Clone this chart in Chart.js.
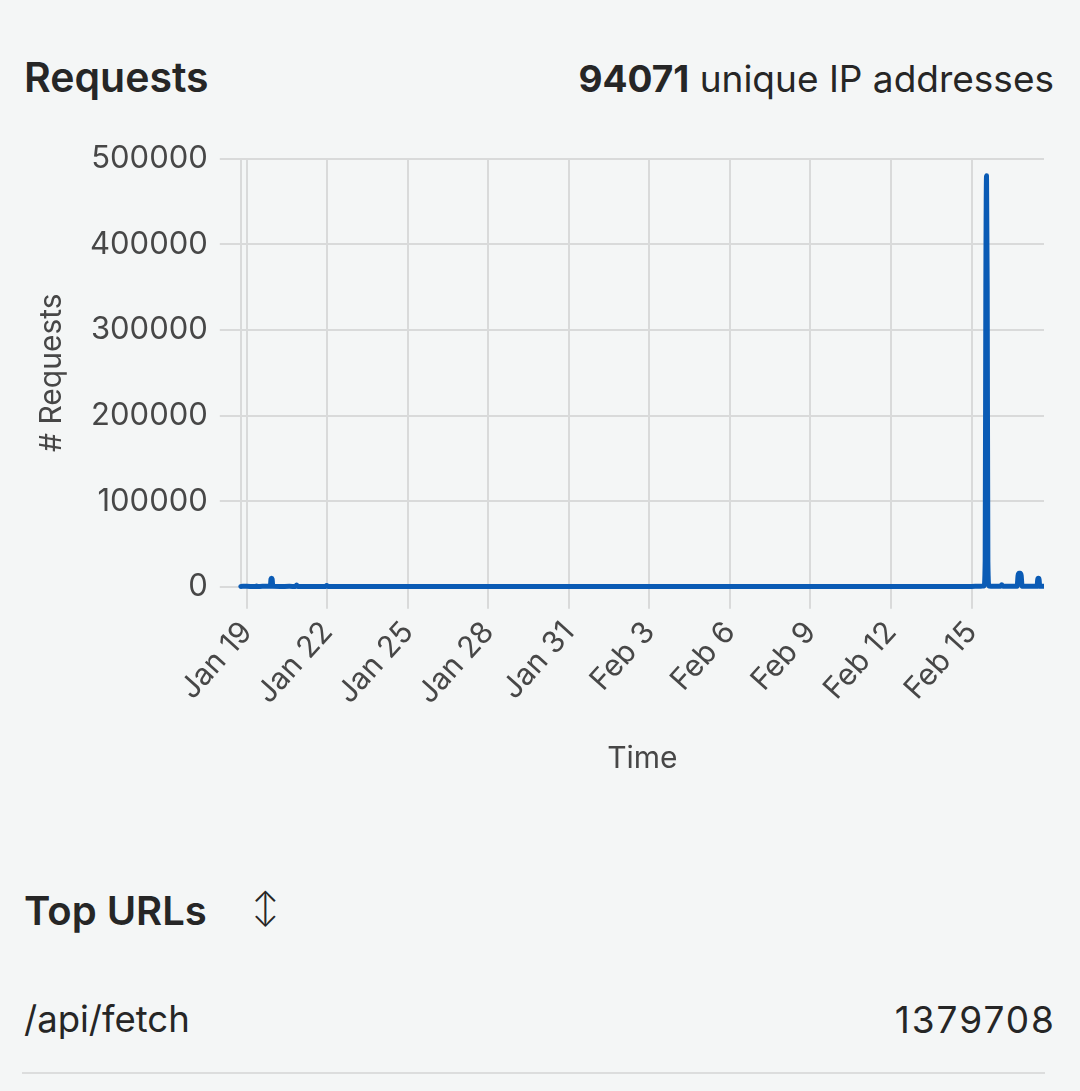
<!DOCTYPE html>
<html>
<head>
<meta charset="utf-8">
<script src="https://cdn.jsdelivr.net/npm/chart.js@4.4.1/dist/chart.umd.min.js"></script>
<style>
  html, body { margin: 0; padding: 0; background: #f4f6f6; }
  body { width: 1080px; height: 1091px; position: relative; overflow: hidden; font-family: Inter, "Noto Sans", sans-serif; color: #262626; }
  .abs { position: absolute; white-space: nowrap; line-height: 1; }
  #title { left: 24px; top: 57px; font-size: 41px; font-weight: 600; }
  #unique { right: 26px; top: 60px; font-size: 37px; font-weight: 400; }
  #unique b { font-weight: 700; }
  #wrap { position: absolute; left: 0; top: 128px; width: 1044px; height: 649px; }
  #top { left: 24px; top: 891px; font-size: 40px; font-weight: 600; }
  #arrow { left: 252px; top: 892px; font-size: 32px; font-weight: 300; }
  #url { left: 24px; top: 1001px; font-size: 36.5px; }
  #count { right: 24px; top: 1001px; font-size: 37px; letter-spacing: 2px; }
  #rule { position: absolute; left: 22px; width: 1023px; top: 1072px; height: 2px; background: #dcdddd; }
</style>
</head>
<body>
<div class="abs" id="title">Requests</div>
<div class="abs" id="unique"><b>94071</b> unique IP addresses</div>
<div id="wrap"><canvas id="c"></canvas></div>
<div class="abs" id="top">Top URLs</div>
<div class="abs" id="arrow">↕</div>
<div class="abs" id="url">/api/fetch</div>
<div class="abs" id="count">1379708</div>
<div id="rule"></div>
<script>
// Hours since Jan 19 00:00
const hours = [-5.4, 0, 6, 7.9, 8.7, 9.5, 14, 21.0, 21.6, 22.1, 22.6, 23.2, 30, 38, 43.5, 44.5, 45.5, 56, 70.4, 71.4, 72.4, 96, 120, 144, 168, 192, 216, 240, 264, 288, 312, 336, 360, 384, 408, 432, 456, 480, 504, 528, 552, 576, 600, 624, 648, 655, 659.2, 660.2, 660.8, 661.4, 662.0, 662.6, 663.6, 668, 674, 675, 676, 683, 688.8, 689.6, 690.5, 691.5, 692.4, 693.2, 700, 706.6, 707.2, 707.8, 708.4, 709.0, 712.6];
const requests = [500, 600, 450, 500, 900, 500, 550, 600, 9000, 10000, 9000, 600, 500, 550, 500, 2000, 500, 450, 500, 1500, 500, 450, 500, 400, 450, 500, 400, 450, 500, 400, 450, 500, 450, 400, 500, 450, 400, 500, 450, 500, 400, 450, 500, 450, 500, 600, 1000, 30000, 350000, 480000, 350000, 30000, 1000, 700, 600, 2500, 600, 700, 800, 13000, 15800, 15800, 13000, 800, 700, 600, 8500, 9900, 8500, 600, 700];
const tickHours = [0, 72, 144, 216, 288, 360, 432, 504, 576, 648];
const tickLabels = ['Jan 19', 'Jan 22', 'Jan 25', 'Jan 28', 'Jan 31', 'Feb 3', 'Feb 6', 'Feb 9', 'Feb 12', 'Feb 15'];
const yTicks = [0, 100000, 200000, 300000, 400000, 500000];

const points = hours.map((h, i) => ({ x: h, y: requests[i] }));
const gridColor = '#d9dada';
const tickColor = '#474747';
const fontFamily = 'Inter, "Noto Sans", sans-serif';

new Chart(document.getElementById('c'), {
  type: 'line',
  data: {
    datasets: [{
      label: 'Requests',
      data: points,
      borderColor: '#0a5bb5',
      backgroundColor: '#0a5bb5',
      borderWidth: 5,
      pointRadius: 0,
      borderCapStyle: 'round',
      borderJoinStyle: 'round',
      cubicInterpolationMode: 'monotone',
      clip: false
    }]
  },
  options: {
    responsive: true,
    maintainAspectRatio: false,
    animation: false,
    layout: { padding: { left: 34, top: 14, right: 0, bottom: 0 } },
    plugins: { legend: { display: false }, tooltip: { enabled: false } },
    scales: {
      x: {
        type: 'linear',
        min: -5.4,
        max: 712.8,
        afterBuildTicks: axis => { axis.ticks = tickHours.map(v => ({ value: v })); },
        ticks: {
          autoSkip: false,
          minRotation: 48,
          maxRotation: 48,
          padding: 6,
          color: tickColor,
          font: { family: fontFamily, size: 30 },
          callback: (v) => { const i = tickHours.indexOf(v); return i >= 0 ? tickLabels[i] : ''; }
        },
        grid: { color: gridColor, lineWidth: 2, tickLength: 22 },
        border: { color: gridColor, width: 2 },
        title: { display: true, text: 'Time', color: tickColor, font: { family: fontFamily, size: 30 }, padding: { top: 24, bottom: 0 } }
      },
      y: {
        min: 0,
        max: 500000,
        afterBuildTicks: axis => { axis.ticks = yTicks.map(v => ({ value: v })); },
        ticks: {
          padding: 12,
          color: tickColor,
          font: { family: fontFamily, size: 31 },
          callback: v => String(v)
        },
        grid: { color: gridColor, lineWidth: 2, tickLength: 21 },
        border: { color: gridColor, width: 2 },
        title: { display: true, text: '# Requests', color: tickColor, font: { family: fontFamily, size: 30 }, padding: { top: 0, bottom: 8 } }
      }
    }
  }
});
</script>
</body>
</html>
